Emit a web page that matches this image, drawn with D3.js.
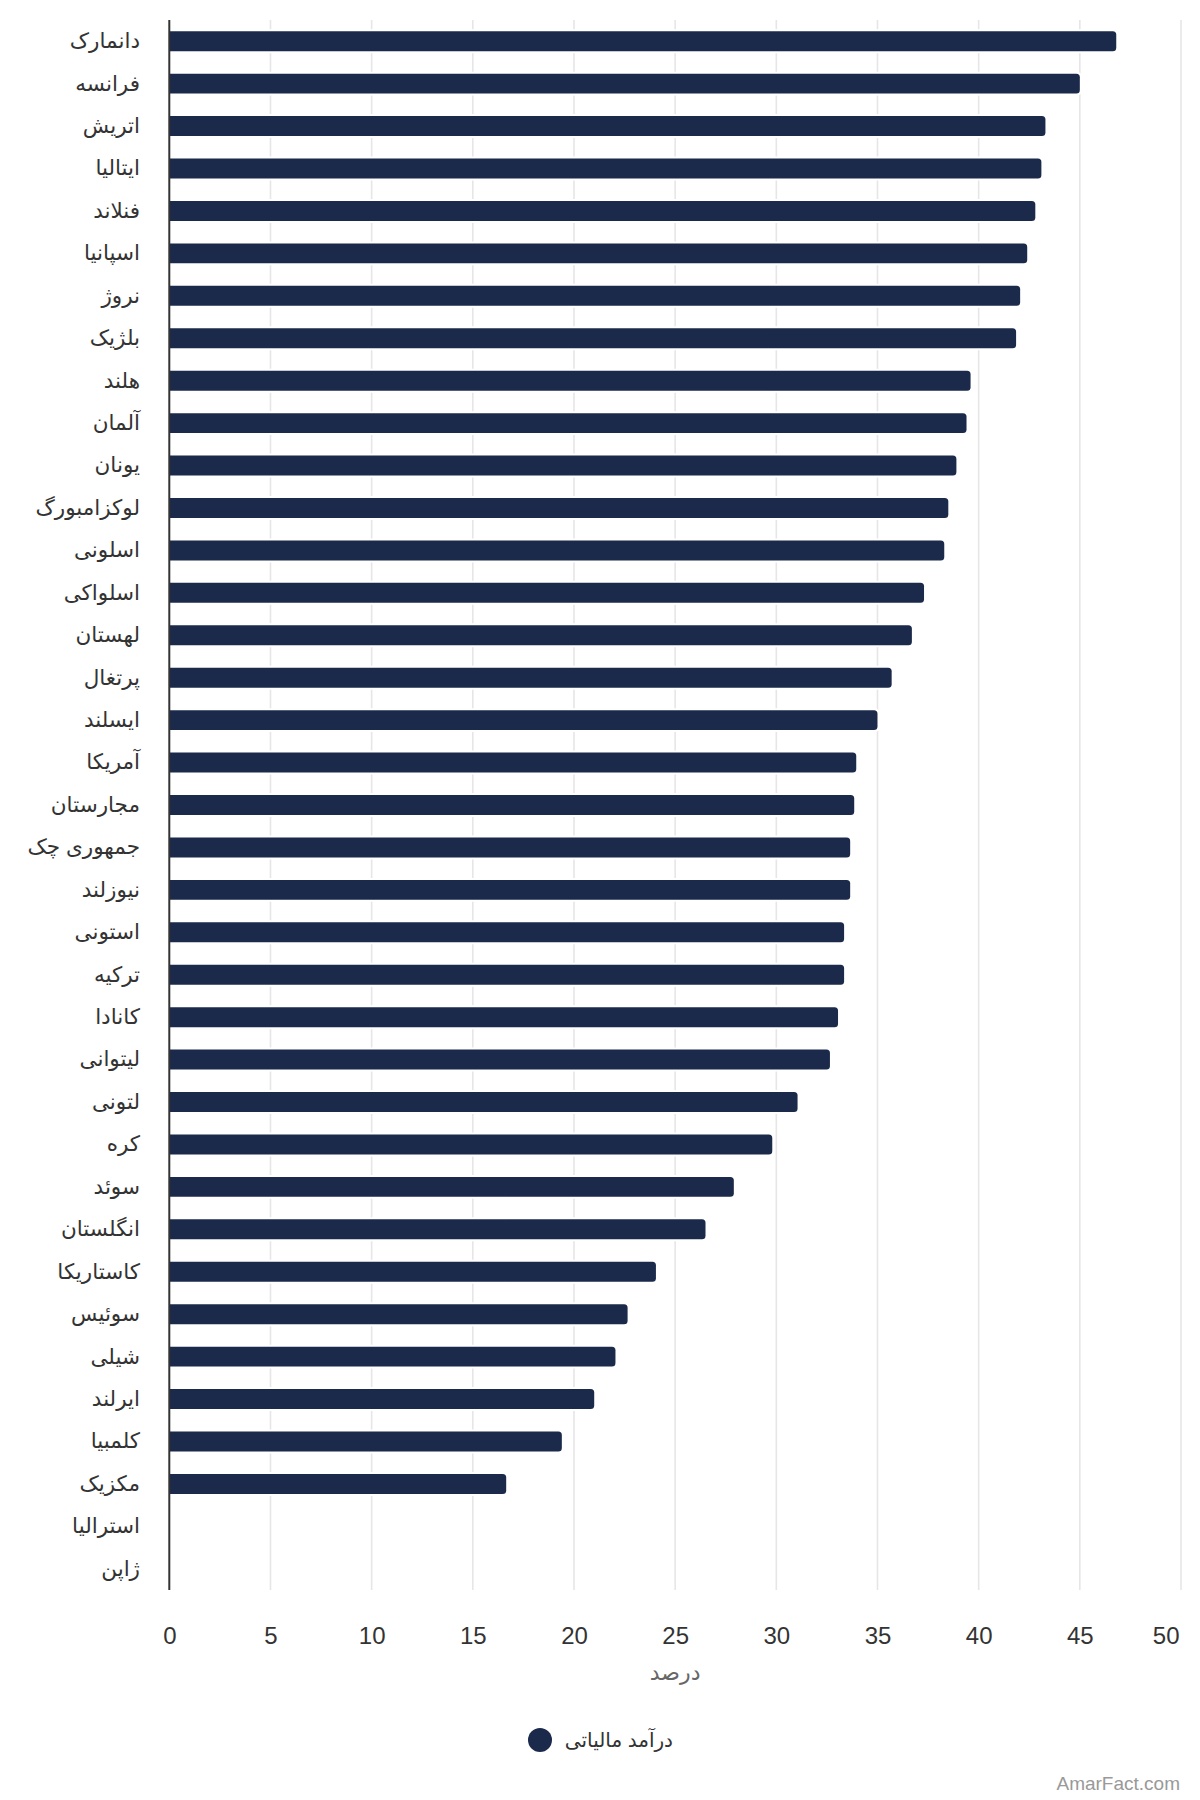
<!DOCTYPE html>
<html>
<head>
<meta charset="utf-8">
<script src="https://cdnjs.cloudflare.com/ajax/libs/d3/7.8.5/d3.min.js"></script>
<style>
    body { margin: 0; background: #fff; }
    svg { display: block; font-family: "Liberation Sans", Arial, "DejaVu Sans", sans-serif; }
</style>
</head>
<body>
<svg id="chart" width="1200" height="1800"></svg>
<script>
// Tax revenue as % of GDP
const countries = [
    "دانمارک", "فرانسه", "اتریش", "ایتالیا", "فنلاند", "اسپانیا", "نروژ", "بلژیک",
    "هلند", "آلمان", "یونان", "لوکزامبورگ", "اسلونی", "اسلواکی", "لهستان", "پرتغال",
    "ایسلند", "آمریکا", "مجارستان", "جمهوری چک", "نیوزلند", "استونی", "ترکیه", "کانادا",
    "لیتوانی", "لتونی", "کره", "سوئد", "انگلستان", "کاستاریکا", "سوئیس", "شیلی",
    "ایرلند", "کلمبیا", "مکزیک", "استرالیا", "ژاپن"
];
const taxRevenue = [
    46.8, 45.0, 43.3, 43.1, 42.8, 42.4, 42.05, 41.85,
    39.6, 39.4, 38.9, 38.5, 38.3, 37.3, 36.7, 35.7,
    35.0, 33.95, 33.85, 33.65, 33.65, 33.35, 33.35, 33.05,
    32.65, 31.05, 29.8, 27.9, 26.5, 24.05, 22.65, 22.05,
    21.0, 19.4, 16.65, null, null
];
const xTicks = [0, 5, 10, 15, 20, 25, 30, 35, 40, 45, 50];
const seriesName = "درآمد مالیاتی";
const axisTitle = "درصد";
const credit = "AmarFact.com";

const barColor = "#1b2a4b";
const plot = { left: 169.3, right: 1181, top: 20, bottom: 1590 };

const svg = d3.select("#chart");

const x = d3.scaleLinear()
    .domain([0, 50])
    .range([plot.left, plot.right]);

const y = d3.scaleBand()
    .domain(countries)
    .range([plot.top, plot.bottom])
    .paddingInner(0.53)
    .paddingOuter(0.265);

// Grid lines
svg.append("g")
    .attr("class", "grid")
    .selectAll("line")
    .data(xTicks.filter(d => d > 0))
    .enter().append("line")
    .attr("x1", d => x(d))
    .attr("x2", d => x(d))
    .attr("y1", plot.top)
    .attr("y2", plot.bottom)
    .attr("stroke", "#e6e6e6")
    .attr("stroke-width", 1.6);

// Bars, rounded on the right end only
function barPath(x0, y0, w, h, r) {
    r = Math.min(r, w, h / 2);
    return "M" + x0 + "," + y0 +
        "H" + (x0 + w - r) +
        "Q" + (x0 + w) + "," + y0 + " " + (x0 + w) + "," + (y0 + r) +
        "V" + (y0 + h - r) +
        "Q" + (x0 + w) + "," + (y0 + h) + " " + (x0 + w - r) + "," + (y0 + h) +
        "H" + x0 + "Z";
}

const rows = countries.map((c, i) => ({ name: c, value: taxRevenue[i] }));

svg.append("g")
    .attr("class", "bars")
    .selectAll("path")
    .data(rows.filter(d => d.value != null))
    .enter().append("path")
    .attr("d", d => barPath(x(0), y(d.name), x(d.value) - x(0), y.bandwidth(), 3.5))
    .attr("fill", barColor)
    .attr("stroke", "#fff")
    .attr("stroke-width", 4)
    .attr("paint-order", "stroke");

// Category axis line
svg.append("line")
    .attr("x1", plot.left)
    .attr("x2", plot.left)
    .attr("y1", plot.top)
    .attr("y2", plot.bottom)
    .attr("stroke", "#333")
    .attr("stroke-width", 2);

// Category labels
svg.append("g")
    .attr("class", "y-labels")
    .selectAll("text")
    .data(countries)
    .enter().append("text")
    .attr("x", 140)
    .attr("y", d => y(d) + y.bandwidth() / 2)
    .attr("dy", "0.32em")
    .attr("text-anchor", "end")
    .attr("fill", "#333")
    .style("font-size", "21.5px")
    .text(d => d);

// Value axis labels
const xAxis = d3.axisBottom(x)
    .tickValues(xTicks)
    .tickSize(0)
    .tickPadding(0);

const xAxisG = svg.append("g")
    .attr("class", "x-axis")
    .attr("transform", "translate(0," + plot.bottom + ")")
    .call(xAxis);

xAxisG.select(".domain").remove();
xAxisG.selectAll("text")
    .attr("y", 54)
    .attr("dy", 0)
    .attr("fill", "#333")
    .style("font-size", "24px")
    .style("font-family", "\"Liberation Sans\", Arial, sans-serif");

// keep the last label inside the plot, the way the reference does
xAxisG.selectAll(".tick")
    .filter(d => d === 50)
    .select("text")
    .attr("text-anchor", "end")
    .attr("x", -2);

// Axis title
svg.append("text")
    .attr("x", (plot.left + plot.right) / 2)
    .attr("y", 1680)
    .attr("text-anchor", "middle")
    .attr("fill", "#666")
    .style("font-size", "22px")
    .text(axisTitle);

// Legend
const legend = svg.append("g").attr("class", "legend");
legend.append("circle")
    .attr("cx", 540)
    .attr("cy", 1740)
    .attr("r", 12)
    .attr("fill", barColor);
legend.append("text")
    .attr("x", 673)
    .attr("y", 1740)
    .attr("dy", "0.35em")
    .attr("text-anchor", "end")
    .attr("fill", "#333")
    .style("font-size", "20px")
    .text(seriesName);

// Credit
svg.append("text")
    .attr("x", 1180)
    .attr("y", 1790)
    .attr("text-anchor", "end")
    .attr("fill", "#999")
    .style("font-size", "19px")
    .text(credit);
</script>
</body>
</html>
